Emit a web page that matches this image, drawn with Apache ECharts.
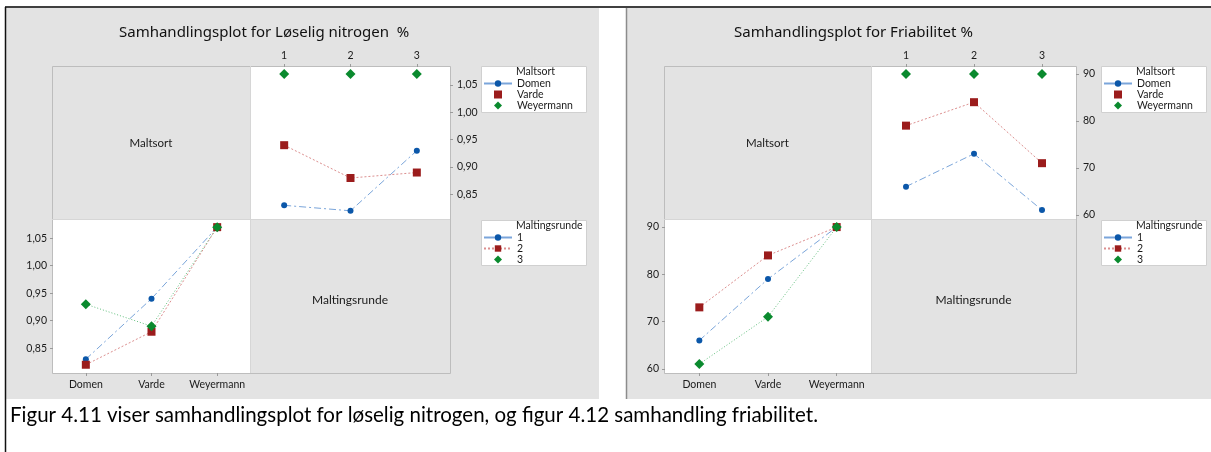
<!DOCTYPE html>
<html>
<head>
<meta charset="utf-8">
<script src="https://cdn.jsdelivr.net/npm/echarts@6/dist/echarts.min.js"></script>
<style>
  html, body { margin: 0; padding: 0; background: #ffffff; }
  #chart { width: 1211px; height: 452px; }
</style>
</head>
<body>
<div id="chart"></div>
<script>
// ---- data ----
const maltsorter = ['Domen', 'Varde', 'Weyermann'];
const runder = ['1', '2', '3'];

// Løselig nitrogen %, per maltsort for maltingsrunde 1, 2, 3
const nitrogenDomen = [0.83, 0.82, 0.93];
const nitrogenVarde = [0.94, 0.88, 0.89];
const nitrogenWeyermann = [1.07, 1.07, 1.07];

// Friabilitet %, per maltsort for maltingsrunde 1, 2, 3
const friabDomen = [66, 73, 61];
const friabVarde = [79, 84, 71];
const friabWeyermann = [90, 90, 90];

const nitrogenTicks = [0.85, 0.90, 0.95, 1.00, 1.05];
const friabTicks = [60, 70, 80, 90];

const nitrogenTitle = 'Samhandlingsplot for Løselig nitrogen\u00a0 %';
const friabTitle = 'Samhandlingsplot for Friabilitet %';
const caption = 'Figur 4.11 viser samhandlingsplot for løselig nitrogen, og figur 4.12 samhandling friabilitet.';

// ---- styling ----
const FONT = '"Noto Sans", "Open Sans", sans-serif';
const SMALL = 'Lato, "Noto Sans", sans-serif';
const TXT = '#1a1a1a';
const BG = '#e3e3e3';
const FRAME = '#bdbdbd';
const DIAMOND_ICON = 'path://M5,0L10,5L5,10L0,5Z';
const SQUARE_ICON = 'path://M0,0L10,0L10,10L0,10Z';

const looks = [
  { symbol: 'circle', size: 6, color: '#0b57a9', line: '#7aa5da', dash: [7, 3, 2, 3] },
  { symbol: 'rect', size: 8, color: '#9b1c1c', line: '#dc8f8f', dash: [2, 2] },
  { symbol: 'diamond', size: 10, color: '#0a8a2e', line: '#63c07e', dash: [1, 2] }
];

// one chart = two data panels (upper right, lower left) inside a 2x2 frame
const charts = [
  {
    title: nitrogenTitle, titleLeft: 114,
    x0: 52, xm: 250, x1: 450, bgX: 6, bgW: 593,
    min: 0.805, max: 1.083, ticks: nitrogenTicks,
    fmt: v => v.toFixed(2).replace('.', ','),
    bySort: [nitrogenDomen, nitrogenVarde, nitrogenWeyermann],
    legendX: 481
  },
  {
    title: friabTitle, titleLeft: 729,
    x0: 664, xm: 871, x1: 1076, bgX: 627, bgW: 584,
    min: 59.1, max: 91.5, ticks: friabTicks,
    fmt: v => String(v),
    bySort: [friabDomen, friabVarde, friabWeyermann],
    legendX: 1101
  }
];
const Y0 = 66, YM = 219, Y1 = 373;

const grid = [], xAxis = [], yAxis = [], series = [], legend = [], title = [], graphic = [];

function axisText(extra) {
  return Object.assign({ color: TXT, fontSize: 10.5, fontFamily: SMALL }, extra || {});
}

charts.forEach((c, ci) => {
  // backgrounds and frame
  graphic.push({ type: 'rect', z: 1, shape: { x: c.bgX, y: 8, width: c.bgW, height: 391 }, style: { fill: BG } });
  graphic.push({ type: 'rect', z: 2, shape: { x: c.xm, y: Y0, width: c.x1 - c.xm, height: YM - Y0 }, style: { fill: '#fff' } });
  graphic.push({ type: 'rect', z: 2, shape: { x: c.x0, y: YM, width: c.xm - c.x0, height: Y1 - YM }, style: { fill: '#fff' } });
  graphic.push({ type: 'rect', z: 3, shape: { x: c.x0 + 0.5, y: Y0 + 0.5, width: c.x1 - c.x0, height: Y1 - Y0 }, style: { fill: null, stroke: FRAME, lineWidth: 1 } });
  graphic.push({ type: 'line', z: 3, shape: { x1: c.xm + 0.5, y1: Y0, x2: c.xm + 0.5, y2: Y1 }, style: { stroke: '#d6d6d6', lineWidth: 1 } });
  graphic.push({ type: 'line', z: 3, shape: { x1: c.x0, y1: YM + 0.5, x2: c.x1, y2: YM + 0.5 }, style: { stroke: '#d6d6d6', lineWidth: 1 } });

  // factor names in the diagonal panels
  graphic.push({ type: 'text', z: 4, x: (c.x0 + c.xm) / 2, y: (Y0 + YM) / 2 + 1,
    style: { text: 'Maltsort', fill: TXT, font: '11.5px ' + SMALL, textAlign: 'center', textVerticalAlign: 'middle' } });
  graphic.push({ type: 'text', z: 4, x: (c.xm + c.x1) / 2, y: (YM + Y1) / 2 + 4,
    style: { text: 'Maltingsrunde', fill: TXT, font: '12px ' + SMALL, textAlign: 'center', textVerticalAlign: 'middle' } });

  // legend boxes with headings
  [[66, 46, 'Maltsort'], [220, 45, 'Maltingsrunde']].forEach(([ty, h, head]) => {
    graphic.push({ type: 'rect', z: 5, shape: { x: c.legendX + 0.5, y: ty + 0.5, width: 105, height: h },
      style: { fill: '#fff', stroke: '#d0d0d0', lineWidth: 1 } });
    graphic.push({ type: 'text', z: 6, x: c.legendX + 35, y: ty + 6,
      style: { text: head, fill: TXT, font: '10.5px ' + SMALL, textVerticalAlign: 'middle' } });
  });

  title.push({ text: c.title, left: c.titleLeft, top: 20,
    textStyle: { fontFamily: FONT, fontSize: 15, fontWeight: 'normal', color: '#111' } });

  const gUp = grid.length;
  grid.push({ left: c.xm + 1, top: Y0 + 1, width: c.x1 - c.xm - 1, height: YM - Y0 - 1, containLabel: false });
  const gLo = grid.length;
  grid.push({ left: c.x0 + 1, top: YM + 1, width: c.xm - c.x0 - 1, height: Y1 - YM - 1, containLabel: false });

  // upper panel: x = maltingsrunde (labels on top), y on the right
  xAxis.push({ gridIndex: gUp, type: 'category', data: runder, position: 'top', z: 10,
    axisLine: { show: false }, axisTick: { show: true, alignWithLabel: true, length: 3, lineStyle: { color: '#9a9a9a' } },
    axisLabel: axisText({ margin: 6, interval: 0 }) });
  yAxis.push({ gridIndex: gUp, type: 'value', position: 'right', min: c.min, max: c.max, z: 10,
    axisLine: { show: false }, splitLine: { show: false },
    axisTick: { show: true, length: 3, customValues: c.ticks, lineStyle: { color: '#9a9a9a' } },
    axisLabel: axisText({ margin: 7, customValues: c.ticks, formatter: c.fmt }) });

  // lower panel: x = maltsort, y on the left
  xAxis.push({ gridIndex: gLo, type: 'category', data: maltsorter, position: 'bottom', z: 10,
    axisLine: { show: false }, axisTick: { show: true, alignWithLabel: true, length: 3, lineStyle: { color: '#9a9a9a' } },
    axisLabel: axisText({ margin: 6, interval: 0, hideOverlap: false }) });
  yAxis.push({ gridIndex: gLo, type: 'value', position: 'left', min: c.min, max: c.max, z: 10,
    axisLine: { show: false }, splitLine: { show: false },
    axisTick: { show: true, length: 3, customValues: c.ticks, lineStyle: { color: '#9a9a9a' } },
    axisLabel: axisText({ margin: 6, customValues: c.ticks, formatter: c.fmt }) });

  const xiUp = xAxis.length - 2, xiLo = xAxis.length - 1;
  const yiUp = yAxis.length - 2, yiLo = yAxis.length - 1;

  // one line per maltsort across the rounds
  maltsorter.forEach((name, si) => {
    const lk = looks[si];
    series.push({
      type: 'line', name: name, xAxisIndex: xiUp, yAxisIndex: yiUp, z: 20,
      data: c.bySort[si], symbol: lk.symbol, symbolSize: lk.size, animation: false,
      itemStyle: { color: lk.color },
      lineStyle: { color: lk.line, width: 1, type: lk.dash, opacity: si === 2 ? 0 : 1 }
    });
  });
  // one line per round across the maltsorts
  runder.forEach((name, ri) => {
    const lk = looks[ri];
    series.push({
      type: 'line', name: name, xAxisIndex: xiLo, yAxisIndex: yiLo, z: 20,
      data: c.bySort.map(arr => arr[ri]), symbol: lk.symbol, symbolSize: lk.size, animation: false,
      itemStyle: { color: lk.color },
      lineStyle: { color: lk.line, width: 1, type: lk.dash }
    });
  });

  const legendBase = {
    orient: 'vertical', left: c.legendX + 2, itemWidth: 28, itemHeight: 8, itemGap: 0,
    padding: 0, selectedMode: false, z: 30,
    textStyle: { fontSize: 10.5, lineHeight: 10, height: 10, color: TXT, fontFamily: SMALL }
  };
  legend.push(Object.assign({}, legendBase, { top: 78,
    data: [{ name: 'Domen', lineStyle: { type: 'solid' } },
           { name: 'Varde', icon: SQUARE_ICON, itemStyle: { color: looks[1].color } },
           { name: 'Weyermann', icon: DIAMOND_ICON, itemStyle: { color: looks[2].color } }] }));
  legend.push(Object.assign({}, legendBase, { top: 232,
    data: [{ name: '1', lineStyle: { type: 'solid' } },
           { name: '2' },
           { name: '3', icon: DIAMOND_ICON, itemStyle: { color: looks[2].color } }] }));
});

// page frame and separator
graphic.push({ type: 'line', z: 8, shape: { x1: 5, y1: 7, x2: 1211, y2: 7 }, style: { stroke: '#000', lineWidth: 1.5 } });
graphic.push({ type: 'line', z: 8, shape: { x1: 5.5, y1: 7, x2: 5.5, y2: 452 }, style: { stroke: '#111', lineWidth: 1.5 } });
graphic.push({ type: 'line', z: 8, shape: { x1: 626.5, y1: 8, x2: 626.5, y2: 399 }, style: { stroke: '#8c8c8c', lineWidth: 1.5 } });
graphic.push({ type: 'text', z: 8, x: 10, y: 415,
  style: { text: caption, fill: '#000', font: '20.5px Lato, "Open Sans", sans-serif', textVerticalAlign: 'middle' } });

const chart = echarts.init(document.getElementById('chart'), null, { renderer: 'canvas' });
chart.setOption({
  animation: false,
  backgroundColor: '#ffffff',
  title, grid, xAxis, yAxis, series, legend,
  graphic: { elements: graphic }
});
</script>
</body>
</html>
